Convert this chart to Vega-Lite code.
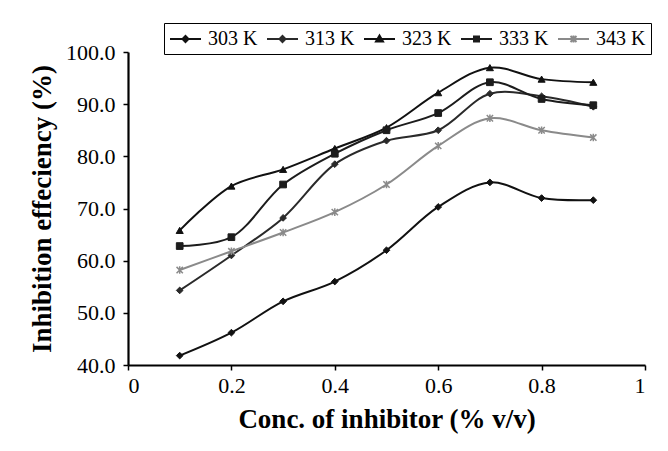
{
  "$schema": "https://vega.github.io/schema/vega-lite/v6.json",
  "width": 517,
  "height": 313,
  "autosize": "none",
  "padding": {"left": 128, "top": 52, "right": 23, "bottom": 86},
  "background": "white",
  "config": {
    "font": "Liberation Serif",
    "view": {"stroke": null},
    "axis": {
      "grid": false,
      "domainColor": "black",
      "domainWidth": 2.2,
      "tickColor": "black",
      "tickWidth": 1.5,
      "tickSize": 5,
      "labelFont": "Liberation Serif",
      "labelFontSize": 22,
      "labelColor": "black",
      "titleFont": "Liberation Serif",
      "titleFontSize": 27,
      "titleFontWeight": "bold",
      "titleColor": "black"
    }
  },
  "data": {
    "values": [
      {"conc": 0.1, "ie": 41.8, "temp": "303 K"},
      {"conc": 0.2, "ie": 46.2, "temp": "303 K"},
      {"conc": 0.3, "ie": 52.2, "temp": "303 K"},
      {"conc": 0.4, "ie": 56.0, "temp": "303 K"},
      {"conc": 0.5, "ie": 62.0, "temp": "303 K"},
      {"conc": 0.6, "ie": 70.3, "temp": "303 K"},
      {"conc": 0.7, "ie": 75.0, "temp": "303 K"},
      {"conc": 0.8, "ie": 72.0, "temp": "303 K"},
      {"conc": 0.9, "ie": 71.6, "temp": "303 K"},
      {"conc": 0.1, "ie": 54.3, "temp": "313 K"},
      {"conc": 0.2, "ie": 61.0, "temp": "313 K"},
      {"conc": 0.3, "ie": 68.2, "temp": "313 K"},
      {"conc": 0.4, "ie": 78.5, "temp": "313 K"},
      {"conc": 0.5, "ie": 83.0, "temp": "313 K"},
      {"conc": 0.6, "ie": 85.0, "temp": "313 K"},
      {"conc": 0.7, "ie": 92.0, "temp": "313 K"},
      {"conc": 0.8, "ie": 91.5, "temp": "313 K"},
      {"conc": 0.9, "ie": 89.5, "temp": "313 K"},
      {"conc": 0.1, "ie": 65.8, "temp": "323 K"},
      {"conc": 0.2, "ie": 74.3, "temp": "323 K"},
      {"conc": 0.3, "ie": 77.5, "temp": "323 K"},
      {"conc": 0.4, "ie": 81.5, "temp": "323 K"},
      {"conc": 0.5, "ie": 85.5, "temp": "323 K"},
      {"conc": 0.6, "ie": 92.2, "temp": "323 K"},
      {"conc": 0.7, "ie": 97.0, "temp": "323 K"},
      {"conc": 0.8, "ie": 94.8, "temp": "323 K"},
      {"conc": 0.9, "ie": 94.2, "temp": "323 K"},
      {"conc": 0.1, "ie": 62.8, "temp": "333 K"},
      {"conc": 0.2, "ie": 64.5, "temp": "333 K"},
      {"conc": 0.3, "ie": 74.6, "temp": "333 K"},
      {"conc": 0.4, "ie": 80.5, "temp": "333 K"},
      {"conc": 0.5, "ie": 85.0, "temp": "333 K"},
      {"conc": 0.6, "ie": 88.3, "temp": "333 K"},
      {"conc": 0.7, "ie": 94.2, "temp": "333 K"},
      {"conc": 0.8, "ie": 91.0, "temp": "333 K"},
      {"conc": 0.9, "ie": 89.8, "temp": "333 K"},
      {"conc": 0.1, "ie": 58.2, "temp": "343 K"},
      {"conc": 0.2, "ie": 61.8, "temp": "343 K"},
      {"conc": 0.3, "ie": 65.4, "temp": "343 K"},
      {"conc": 0.4, "ie": 69.3, "temp": "343 K"},
      {"conc": 0.5, "ie": 74.6, "temp": "343 K"},
      {"conc": 0.6, "ie": 82.0, "temp": "343 K"},
      {"conc": 0.7, "ie": 87.3, "temp": "343 K"},
      {"conc": 0.8, "ie": 85.0, "temp": "343 K"},
      {"conc": 0.9, "ie": 83.6, "temp": "343 K"}
    ]
  },
  "encoding": {
    "x": {
      "field": "conc",
      "type": "quantitative",
      "scale": {"domain": [0, 1], "nice": false},
      "axis": {
        "values": [0, 0.2, 0.4, 0.6, 0.8, 1],
        "format": "~g",
        "labelPadding": 5,
        "title": "Conc. of inhibitor (% v/v)",
        "titlePadding": 10
      }
    },
    "y": {
      "field": "ie",
      "type": "quantitative",
      "scale": {"domain": [40, 100], "nice": false, "zero": false},
      "axis": {
        "values": [40, 50, 60, 70, 80, 90, 100],
        "format": ".1f",
        "labelPadding": 8,
        "title": "Inhibition effeciency (%)",
        "titlePadding": 9
      }
    }
  },
  "layer": [
    {
      "mark": {"type": "line", "interpolate": "catmull-rom", "strokeWidth": 2},
      "encoding": {
        "color": {
          "field": "temp",
          "type": "nominal",
          "scale": {
            "domain": ["303 K", "313 K", "323 K", "333 K", "343 K"],
            "range": ["#111111", "#2a2a2a", "#111111", "#1c1c1c", "#8a8a8a"]
          },
          "legend": {
            "title": null,
            "orient": "none",
            "legendX": 36,
            "legendY": -29,
            "direction": "horizontal",
            "columns": 5,
            "strokeColor": "black",
            "fillColor": "white",
            "padding": 5,
            "symbolSize": 400,
            "symbolStrokeWidth": 2,
            "labelFont": "Liberation Serif",
            "labelFontSize": 20,
            "labelColor": "black",
            "labelOffset": 17,
            "columnPadding": 5,
            "encode": {
              "symbols": {
                "update": {
                  "shape": {
                    "signal": "datum.value === '303 K' || datum.value === '313 K' ? 'M-1,0H2.1M0.55,-0.3L0.85,0L0.55,0.3L0.25,0Z' : datum.value === '323 K' ? 'M-1,0H2.1M0.55,-0.35L0.9,0.25L0.2,0.25Z' : datum.value === '333 K' ? 'M-1,0H2.1M0.3,-0.25H0.8V0.25H0.3Z' : 'M-1,0H2.1M0.25,-0.3L0.85,0.3M0.25,0.3L0.85,-0.3M0.55,-0.35V0.35'"
                  },
                  "fill": {"scale": "color", "field": "value"},
                  "stroke": {"scale": "color", "field": "value"},
                  "strokeWidth": {"value": 2}
                }
              }
            }
          }
        }
      }
    },
    {
      "transform": [{"filter": "datum.temp === '303 K'"}],
      "mark": {"type": "point", "shape": "diamond", "filled": true, "size": 45, "color": "#111111", "stroke": "#111111", "strokeWidth": 1, "opacity": 1}
    },
    {
      "transform": [{"filter": "datum.temp === '313 K'"}],
      "mark": {"type": "point", "shape": "diamond", "filled": true, "size": 45, "color": "#2a2a2a", "stroke": "#2a2a2a", "strokeWidth": 1, "opacity": 1}
    },
    {
      "transform": [{"filter": "datum.temp === '323 K'"}],
      "mark": {"type": "point", "shape": "triangle-up", "filled": true, "size": 50, "color": "#111111", "stroke": "#111111", "strokeWidth": 1, "opacity": 1}
    },
    {
      "transform": [{"filter": "datum.temp === '333 K'"}],
      "mark": {"type": "point", "shape": "square", "filled": true, "size": 45, "color": "#1c1c1c", "stroke": "#1c1c1c", "strokeWidth": 1, "opacity": 1}
    },
    {
      "transform": [{"filter": "datum.temp === '343 K'"}],
      "mark": {"type": "point", "shape": "M-1,-1L1,1M-1,1L1,-1M0,-1.2V1.2", "filled": false, "size": 40, "stroke": "#8a8a8a", "strokeWidth": 1.5, "opacity": 1}
    }
  ]
}
